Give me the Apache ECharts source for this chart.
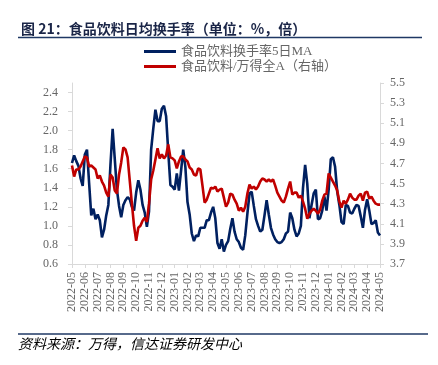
<!DOCTYPE html>
<html>
<head>
<meta charset="utf-8">
<script src="https://cdn.jsdelivr.net/npm/echarts@6/dist/echarts.min.js"></script>
<style>
html,body{margin:0;padding:0;background:#fff;}
#chart{width:438px;height:365px;}
</style>
</head>
<body>
<div id="chart"></div>
<script>
// Month tick labels (x axis)
const months = ['2022-05','2022-06','2022-07','2022-08','2022-09','2022-10','2022-11','2022-12',
  '2023-01','2023-02','2023-03','2023-04','2023-05','2023-06','2023-07','2023-08','2023-09',
  '2023-10','2023-11','2023-12','2024-01','2024-02','2024-03','2024-04','2024-05'];
// samples per month between month ticks
const perMonth = 6;

// 食品饮料换手率5日MA (%), left axis — 6 readings per month
const turnoverMA5 = [
  1.66,1.74,1.68,1.63,1.50,1.42,
  1.75,1.80,1.45,1.11,1.18,1.07,
  1.12,1.06,0.88,0.96,1.11,1.22,
  1.65,2.02,1.70,1.38,1.21,1.09,
  1.22,1.27,1.30,1.28,1.20,1.16,
  1.35,1.48,1.38,1.22,1.14,0.99,
  1.15,1.80,2.02,2.22,2.10,2.10,
  2.23,2.26,2.15,1.78,1.43,1.41,
  1.38,1.55,1.37,1.58,1.80,1.62,
  1.25,1.12,0.92,0.84,0.90,0.89,
  0.98,0.98,0.98,1.06,1.06,1.14,
  1.20,1.08,0.82,0.76,0.86,0.73,
  0.80,0.84,0.97,1.08,0.94,0.86,
  0.83,0.77,0.75,0.90,1.13,1.34,
  1.36,1.21,1.07,1.00,0.94,0.96,
  1.11,1.27,1.12,0.98,0.91,0.86,
  0.83,0.82,0.83,0.86,0.92,0.94,
  1.14,1.08,0.96,0.89,0.92,1.00,
  1.40,1.64,1.44,1.08,1.22,1.34,
  1.38,1.07,1.08,1.16,1.31,1.16,
  1.38,1.70,1.72,1.62,1.36,1.22,
  1.04,1.02,1.22,1.21,1.14,1.13,
  1.18,1.22,1.21,1.10,0.98,1.17,
  1.28,1.16,1.02,1.03,1.06,0.93,
  0.90
];

// 食品饮料/万得全A (倍), right axis
const relativeToA = [
  4.68,4.57,4.64,4.64,4.67,4.72,
  4.77,4.76,4.67,4.68,4.66,4.64,
  4.55,4.58,4.52,4.48,4.41,4.37,
  4.59,4.56,4.43,4.40,4.59,4.71,
  4.86,4.84,4.76,4.53,4.30,4.08,
  3.93,4.06,4.08,4.13,4.16,4.12,
  4.30,4.54,4.63,4.74,4.85,4.75,
  4.79,4.75,4.78,4.89,4.76,4.75,
  4.73,4.65,4.72,4.77,4.77,4.74,
  4.72,4.66,4.64,4.59,4.58,4.65,
  4.64,4.48,4.31,4.34,4.40,4.46,
  4.45,4.47,4.42,4.44,4.45,4.36,
  4.27,4.31,4.40,4.39,4.34,4.30,
  4.23,4.26,4.22,4.27,4.40,4.49,
  4.45,4.47,4.44,4.47,4.52,4.55,
  4.54,4.52,4.54,4.52,4.54,4.48,
  4.41,4.37,4.33,4.31,4.37,4.45,
  4.52,4.39,4.41,4.41,4.36,4.38,
  4.32,4.25,4.15,4.20,4.23,4.25,
  4.23,4.20,4.24,4.33,4.39,4.40,
  4.60,4.56,4.52,4.48,4.43,4.32,
  4.26,4.33,4.30,4.34,4.40,4.36,
  4.34,4.34,4.38,4.40,4.33,4.41,
  4.42,4.35,4.37,4.33,4.30,4.29,
  4.29
];

const seriesNames = ['食品饮料换手率5日MA', '食品饮料/万得全A（右轴）'];
const titleText = '图 21：食品饮料日均换手率（单位：%，倍）';
const sourceText = '资料来源：万得，信达证券研发中心';

const categories = turnoverMA5.map((_, i) => i);

const serif = '"Liberation Serif", "Noto Sans CJK SC", serif';
const axisGrey = '#595959';
const lineGrey = '#d9d9d9';
const navy = '#1f3864';

const chart = echarts.init(document.getElementById('chart'));
chart.setOption({
  animation: false,
  backgroundColor: '#fff',
  title: {
    text: titleText,
    left: 16, top: 17,
    textStyle: { fontFamily: '"Noto Sans CJK SC", sans-serif', fontSize: 14, fontWeight: 'bold', color: '#1a2547' }
  },
  legend: {
    orient: 'vertical',
    left: 139, top: 40,
    itemWidth: 32, itemHeight: 3, itemGap: 2,
    icon: 'rect',
    data: seriesNames,
    textStyle: { fontFamily: serif, fontSize: 13, color: '#666' }
  },
  grid: { left: 72, right: 58, top: 83, bottom: 101, containLabel: false },
  xAxis: {
    type: 'category',
    data: categories,
    boundaryGap: false,
    axisLine: { lineStyle: { color: lineGrey, width: 1 } },
    axisTick: { show: true, length: 4, interval: (i) => i % perMonth === 0, lineStyle: { color: lineGrey } },
    axisLabel: {
      interval: (i) => i % perMonth === 0,
      rotate: 90, margin: 8,
      formatter: (v, i) => months[Math.round(i / perMonth)],
      fontFamily: serif, fontSize: 12, color: '#666'
    },
    splitLine: { show: false }
  },
  yAxis: [
    {
      type: 'value', min: 0.6, max: 2.5, interval: 0.2,
      axisLine: { show: true, lineStyle: { color: lineGrey } },
      axisTick: { show: true, length: 4, lineStyle: { color: lineGrey } },
      axisLabel: { showMaxLabel: false, margin: 14, formatter: (v) => v.toFixed(1), fontFamily: serif, fontSize: 12, color: '#666' },
      splitLine: { show: false }
    },
    {
      type: 'value', min: 3.7, max: 5.5, interval: 0.2,
      axisLine: { show: true, lineStyle: { color: lineGrey } },
      axisTick: { show: true, length: 4, lineStyle: { color: lineGrey } },
      axisLabel: { margin: 10, formatter: (v) => v.toFixed(1), fontFamily: serif, fontSize: 12, color: '#666' },
      splitLine: { show: false }
    }
  ],
  series: [
    {
      name: seriesNames[0], type: 'line', yAxisIndex: 0,
      data: turnoverMA5, symbol: 'none',
      lineStyle: { color: '#002060', width: 2.6 }, itemStyle: { color: '#002060' }
    },
    {
      name: seriesNames[1], type: 'line', yAxisIndex: 1,
      data: relativeToA, symbol: 'none',
      lineStyle: { color: '#c00000', width: 2.6 }, itemStyle: { color: '#c00000' }
    }
  ],
  graphic: [
    { type: 'line', shape: { x1: 18, y1: 37.5, x2: 422, y2: 37.5 }, style: { stroke: navy, lineWidth: 1.5 } },
    { type: 'line', shape: { x1: 18, y1: 334, x2: 428, y2: 334 }, style: { stroke: navy, lineWidth: 1.5 } },
    { type: 'text', left: 18, top: 337, style: { text: sourceText, fontFamily: '"Noto Sans CJK SC", sans-serif', fontStyle: 'italic', fontSize: 14, fill: '#000' } }
  ]
});
</script>
</body>
</html>
